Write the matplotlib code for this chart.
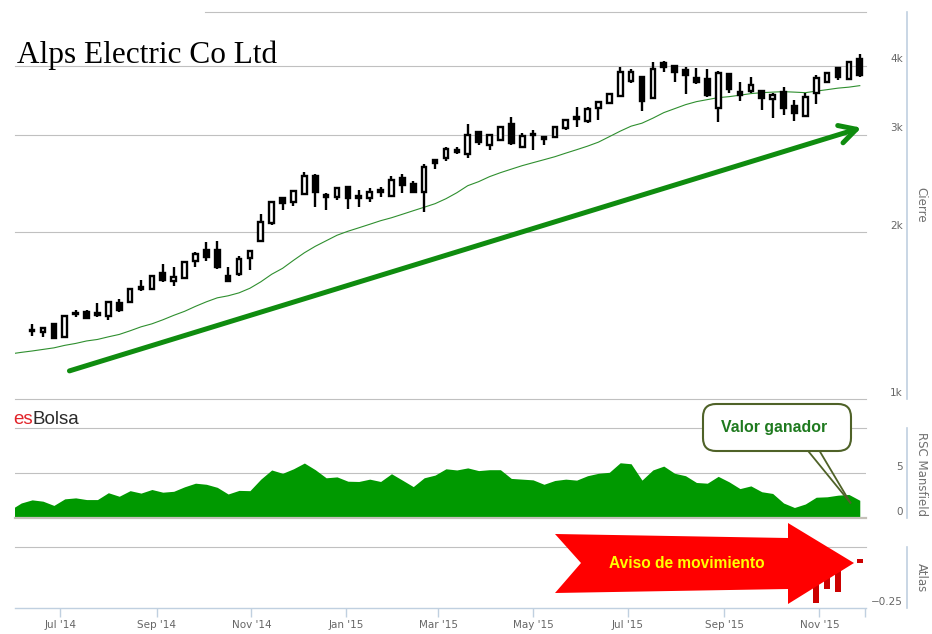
import numpy as np
import pandas as pd
import matplotlib
matplotlib.use('Agg')
import matplotlib.pyplot as plt
import matplotlib.dates as mdates
import matplotlib.transforms as mtrans
from matplotlib.patches import Polygon, FancyBboxPatch, FancyArrowPatch
from matplotlib.ticker import NullLocator, FixedLocator

# Weekly candles (JPY)
first_week = '2014-06-13'
opens = [1333, 1322, 1367, 1295, 1422, 1437, 1431, 1413, 1492, 1498, 1594, 1581, 1690, 1635, 1655, 1777, 1860, 1860, 1669, 1683,
         1800, 1931, 2082, 2310, 2272, 2349, 2532, 2339, 2320, 2418, 2330, 2310, 2369, 2330, 2511, 2449, 2369, 2705, 2728, 2820,
         2774, 3040, 2880, 2940, 3143, 2856, 3015, 2977, 2977, 3091, 3236, 3182, 3359, 3430, 3532, 3759, 3822, 3503, 4051, 4001,
         3936, 3806, 3791, 3359, 3871, 3591, 3606, 3606, 3488, 3591, 3388, 3250, 3576, 3744, 3968, 3791, 4120]
highs = [1367, 1350, 1373, 1419, 1449, 1449, 1491, 1504, 1517, 1588, 1642, 1676, 1755, 1733, 1777, 1845, 1923, 1931, 1733, 1815,
         1860, 2161, 2282, 2320, 2388, 2575, 2553, 2359, 2418, 2428, 2388, 2408, 2418, 2532, 2553, 2480, 2661, 2717, 2856, 2856,
         3143, 3045, 3015, 3117, 3236, 3027, 3065, 2990, 3117, 3209, 3373, 3373, 3459, 3576, 3985, 3952, 3838, 4068, 4085, 4018,
         3985, 3968, 3952, 3920, 3887, 3744, 3822, 3621, 3576, 3666, 3473, 3576, 3855, 3903, 3985, 4085, 4207]
lows = [1300, 1295, 1287, 1289, 1407, 1395, 1407, 1390, 1437, 1492, 1568, 1575, 1628, 1601, 1649, 1733, 1777, 1719, 1632, 1669,
        1712, 1923, 2065, 2198, 2234, 2339, 2225, 2198, 2291, 2207, 2225, 2272, 2320, 2320, 2359, 2359, 2180, 2606, 2694, 2774,
        2728, 2880, 2820, 2928, 2880, 2844, 2820, 2880, 2965, 3065, 3104, 3156, 3196, 3416, 3517, 3728, 3318, 3488, 3903, 3744,
        3561, 3712, 3517, 3169, 3576, 3459, 3576, 3332, 3223, 3263, 3182, 3236, 3416, 3728, 3775, 3775, 3822]
closes = [1327, 1344, 1289, 1413, 1428, 1401, 1419, 1498, 1449, 1581, 1581, 1669, 1642, 1662, 1770, 1830, 1807, 1733, 1635, 1792,
          1853, 2090, 2272, 2263, 2379, 2532, 2369, 2320, 2408, 2310, 2310, 2369, 2388, 2490, 2439, 2369, 2628, 2672, 2832, 2797,
          3002, 2916, 3002, 3104, 2904, 2990, 3002, 2953, 3104, 3196, 3209, 3346, 3444, 3561, 3903, 3903, 3459, 3952, 3985, 3903,
          3855, 3744, 3546, 3887, 3636, 3546, 3697, 3503, 3546, 3359, 3290, 3517, 3806, 3887, 3822, 4068, 3855]

# moving average and Mansfield RSC start two weeks earlier than the candles
first_line_week = '2014-05-30'
moving_avg = [1206, 1214, 1221, 1229, 1237, 1250, 1260, 1273, 1281, 1295, 1308, 1328, 1350, 1367, 1390, 1416, 1440, 1470, 1498, 1523,
              1536, 1555, 1585, 1628, 1680, 1722, 1780, 1837, 1887, 1931, 1976, 2009, 2038, 2068, 2099, 2125, 2156, 2188, 2220, 2253,
              2300, 2358, 2428, 2469, 2521, 2563, 2601, 2639, 2672, 2705, 2739, 2780, 2820, 2862, 2910, 2977, 3046, 3110, 3149, 3215,
              3290, 3345, 3401, 3444, 3473, 3502, 3516, 3538, 3561, 3575, 3583, 3590, 3583, 3575, 3598, 3620, 3643, 3658, 3681]
mansfield = [0.95, 1.7, 2.05, 1.9, 1.43, 2.16, 2.27, 2.08, 2.08, 2.84, 2.45, 3.07, 2.8, 3.2, 2.9, 3.0, 3.5, 3.9, 3.78, 3.44,
             2.7, 3.1, 3.07, 4.35, 5.37, 5.0, 5.5, 6.14, 5.4, 4.5, 4.6, 4.12, 4.09, 4.35, 4.09, 4.95, 4.24, 3.52, 4.5, 4.8,
             5.5, 5.37, 5.6, 5.3, 5.4, 5.4, 4.43, 4.35, 4.27, 3.78, 4.2, 4.35, 4.24, 4.73, 5.0, 5.11, 6.17, 6.06, 4.24, 5.37,
             5.8, 5.0, 4.73, 3.98, 3.9, 4.66, 4.05, 3.3, 3.6, 2.95, 2.76, 1.7, 1.2, 1.59, 2.34, 2.39, 2.57, 2.65, 2.0]

atlas_dates = ['2015-10-30', '2015-11-06', '2015-11-13', '2015-11-27']
atlas_vals = [-0.223, -0.154, -0.166, -0.017]

price_ticks = [1000, 2000, 3000, 4000]
price_labels = ['1k', '2k', '3k', '4k']
rsc_ticks = [0, 5]
rsc_labels = ['0', '5']
atlas_ticks = [-0.25]
atlas_labels = ['\u22120.25']

x_start, x_end = '2014-06-02', '2015-12-01'

W, H = 932, 634
fig = plt.figure(figsize=(W / 100, H / 100), dpi=100)
fig.patch.set_facecolor('white')


def box(x0, y0, x1, y1):
    return [x0 / W, 1 - y1 / H, (x1 - x0) / W, (y1 - y0) / H]


ax = fig.add_axes(box(15, 12, 866, 399))
ax_rs = fig.add_axes(box(15, 428.3, 866, 518.3), sharex=ax)
ax_at = fig.add_axes(box(15, 547, 866, 608.3), sharex=ax)

grid_c = '#c0c0c0'
axis_c = '#c0d0e0'
lab_c = '#666666'

weeks = mdates.date2num(pd.date_range(first_week, periods=len(opens), freq='7D'))
line_weeks = mdates.date2num(pd.date_range(first_line_week, periods=len(moving_avg), freq='7D'))
o, h, l, c = map(np.array, (opens, highs, lows, closes))

# main panel: candles + moving average
ax.set_yscale('log')
ax.set_ylim(1000, 5000)
ax.set_xlim(mdates.date2num(pd.Timestamp(x_start)), mdates.date2num(pd.Timestamp(x_end)))
for p in price_ticks:
    ax.axhline(p, color=grid_c, lw=0.8, zorder=1, clip_on=False)
ax.axhline(5000, xmin=(205 - 15) / 851, color=grid_c, lw=0.8, zorder=1, clip_on=False)

ax.plot(line_weeks, moving_avg, color='#2f8f2f', lw=0.8, zorder=2)
ax.vlines(weeks, l, h, color='black', lw=1.7, zorder=3)
lo, hi = np.minimum(o, c), np.maximum(o, c)
ax.bar(weeks, hi - lo, bottom=lo, width=3.0, color=np.where(c >= o, 'white', 'black'),
       edgecolor='black', linewidth=1.7, zorder=4)

arrow = FancyArrowPatch((mdates.date2num(pd.Timestamp('2014-07-07')), 1124),
                        (mdates.date2num(pd.Timestamp('2015-11-28')), 3090),
                        arrowstyle='->,head_length=12,head_width=6.5', mutation_scale=1,
                        lw=3.6, color='#0f8c0f', shrinkA=0, shrinkB=0, zorder=5)
ax.add_patch(arrow)

# Mansfield relative strength
ax_rs.set_ylim(0, 10)
ax_rs.axhline(5, color=grid_c, lw=0.8, zorder=1)
ax_rs.axhline(10, color=grid_c, lw=0.8, zorder=1, clip_on=False)
ax_rs.fill_between(line_weeks, mansfield, 0, color='#009900', lw=0, zorder=2)
ax_rs.axhline(0, color='#c4c0b8', lw=1.6, zorder=3, clip_on=False)

# Atlas
ax_at.set_ylim(-0.25, 0.063)
ax_at.axhline(0.063, color=grid_c, lw=0.8, zorder=1, clip_on=False)
ax_at.bar(mdates.date2num(pd.to_datetime(atlas_dates)), atlas_vals, width=3.8, color='#cc0000', zorder=2)

for a in (ax, ax_rs, ax_at):
    for s in a.spines.values():
        s.set_visible(False)
    a.yaxis.set_major_locator(NullLocator())
    a.yaxis.set_minor_locator(NullLocator())
    a.set_facecolor('none')
ax.tick_params(axis='x', bottom=False, labelbottom=False)
ax_rs.tick_params(axis='x', bottom=False, labelbottom=False)

ax_at.spines['bottom'].set_visible(True)
ax_at.spines['bottom'].set_color(axis_c)
ax_at.spines['bottom'].set_linewidth(1)
months = list(mdates.date2num(pd.date_range('2014-07-01', '2015-11-01', freq='2MS')))
month_labels = [pd.Timestamp(mdates.num2date(m)).strftime("%b '%y") for m in months]
ax_at.xaxis.set_major_locator(FixedLocator(months + [mdates.date2num(pd.Timestamp(x_end)) - 0.6]))
ax_at.set_xticklabels(month_labels + [''])
ax_at.tick_params(axis='x', direction='out', length=6.2, width=1, color=axis_c,
                  labelsize=7.5, labelcolor=lab_c, pad=2)


def right_axis(a, ticks, labels, title, title_y):
    trans = mtrans.blended_transform_factory(a.transAxes, a.transData)
    off = mtrans.ScaledTranslation(0, 6.5 / 100, fig.dpi_scale_trans)
    for t, lab in zip(ticks, labels):
        a.text(1 + 37 / 851, t, lab, transform=trans + off, ha='right', va='center',
               fontsize=7.5, color=lab_c, clip_on=False)
    a.plot([1 + 41 / 851] * 2, [0, 1], transform=a.transAxes, color=axis_c, lw=1.2, clip_on=False)
    fig.text(921 / W, 1 - title_y / H, title, rotation=270, ha='center', va='center',
             fontsize=8.5, color='#707070')


right_axis(ax, price_ticks, price_labels, 'Cierre', 205)
right_axis(ax_rs, rsc_ticks, rsc_labels, 'RSC Mansfield', 474)
right_axis(ax_at, atlas_ticks, atlas_labels, 'Atlas', 578)

# titles
fig.text(17 / W, 1 - 62.7 / H, 'Alps Electric Co Ltd', family='Liberation Serif', fontsize=22.5,
         va='baseline', color='black')
t_es = fig.text(13 / W, 1 - 424 / H, 'es', family='Liberation Sans', fontsize=13.5,
                va='baseline', color='#e2242a')
renderer = fig.canvas.get_renderer()
bb = t_es.get_window_extent(renderer)
fig.text(bb.x1 / W, 1 - 424 / H, 'Bolsa', family='Liberation Sans', fontsize=13.5,
         va='baseline', color='#2b2b2b')

# annotations drawn in pixel space
px = mtrans.IdentityTransform()
red_pts = [(555, 534), (788, 538), (788, 523), (854, 563), (788, 604), (788, 589), (555, 593), (581, 563)]
fig.add_artist(Polygon([(x, H - y) for x, y in red_pts], closed=True, facecolor='#ff0000',
                       edgecolor='none', transform=px, zorder=5))
fig.text(687 / W, 1 - 567.5 / H, 'Aviso de movimiento', family='Liberation Sans', fontweight='bold',
         fontsize=11.2, color='#ffff00', ha='center', va='baseline', zorder=6)

olive = '#4f6228'
for x0 in (808.7, 820):
    fig.add_artist(plt.Line2D([x0, 850.3], [H - 451.7, H - 502.7], color=olive, lw=1.3,
                              transform=px, zorder=5))
fig.add_artist(FancyBboxPatch((703, H - 451), 148, 47, boxstyle='round,pad=0,rounding_size=13',
                              facecolor='white', edgecolor=olive, lw=1.5, transform=px, zorder=6))
fig.text(774.5 / W, 1 - 431.7 / H, 'Valor ganador', family='Liberation Sans', fontweight='bold',
         fontsize=11.4, color='#1f7a1f', ha='center', va='baseline', zorder=7)

fig.savefig('out.png', dpi=100)
